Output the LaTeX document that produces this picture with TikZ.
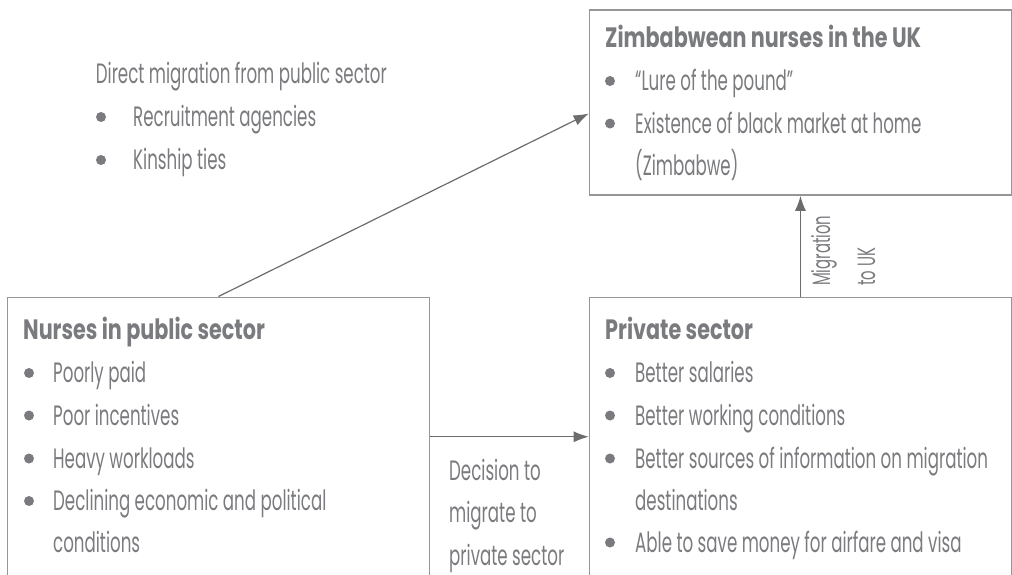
\documentclass[tikz,border=0pt]{standalone}
\usepackage{fontspec}
\setmainfont{Poppins}[UprightFeatures={FakeStretch=0.595},BoldFeatures={FakeStretch=0.74}]
\usetikzlibrary{arrows.meta}
\definecolor{gristexte}{RGB}{122,123,126}
\definecolor{griscadre}{RGB}{150,150,150}
\definecolor{grisfleche}{RGB}{108,108,110}
\newcommand{\puce}[2]{\fill[gristexte] (#1,#2) circle (5pt);}

\begin{document}
\begin{tikzpicture}[x=1pt,y=-1pt,
  txt/.style={anchor=base west,inner sep=0pt,text=gristexte,font=\fontsize{28}{32}\selectfont},
  titre/.style={txt,font=\fontsize{28}{32}\selectfont\bfseries},
  boite/.style={draw=griscadre,line width=1.5pt,minimum width=422pt,anchor=north west,inner sep=0pt},
  fleche/.style={draw=grisfleche,line width=1.2pt,-{Latex[length=15pt,width=11pt]}}]
\useasboundingbox (0,0) rectangle (1012,574);

% les cadres
\node[boite,minimum height=185pt] (uk) at (588.7,9.3) {};
\node[boite,minimum height=300pt] (public) at (6.7,296.5) {};
\node[boite,minimum height=300pt] (prive) at (588.7,296.5) {};

% migration directe
\node[txt] (direct) at (95.7,83) {Direct migration from public sector};
\puce{101}{117}
\node[txt] (agences) at (133,126.5) {Recruitment agencies};
\puce{101}{160}
\node[txt] (parente) at (133,169.5) {Kinship ties};

% infirmieres au Royaume-Uni
\node[titre] (uktitre) at (605,47) {Zimbabwean nurses in the UK};
\puce{610}{81}
\node[txt] (livre) at (635,90) {“Lure of the pound”};
\puce{610}{123.5}
\node[txt] (marche) at (635,133) {Existence of black market at home};
\node[txt] (zim) at (635,175.5) {(Zimbabwe)};

% secteur public
\node[titre] (pubtitre) at (23,339) {Nurses in public sector};
\puce{29}{373}
\node[txt] (pub1) at (53,382.5) {Poorly paid};
\puce{29}{415.5}
\node[txt] (pub2) at (53,425) {Poor incentives};
\puce{29}{458.5}
\node[txt] (pub3) at (53,468) {Heavy workloads};
\puce{29}{501}
\node[txt] (pub4) at (53,510.5) {Declining economic and political};
\node[txt] (pub5) at (53,552) {conditions};

% secteur prive
\node[titre] (privtitre) at (605,339) {Private sector};
\puce{610}{373}
\node[txt] (priv1) at (635,382.5) {Better salaries};
\puce{610}{415.5}
\node[txt] (priv2) at (635,425) {Better working conditions};
\puce{610}{458.5}
\node[txt] (priv3) at (635,468) {Better sources of information on migration};
\node[txt] (priv4) at (635,510.5) {destinations};
\puce{610}{542.5}
\node[txt] (priv5) at (635,552) {Able to save money for airfare and visa};

% fleches
\draw[fleche] (public.north) -- ([yshift=-11pt]uk.west);
\draw[fleche] ([yshift=10.5pt]public.east) -- ([yshift=10.5pt]prive.west);
\draw[fleche] (prive.north) -- (uk.south);

% etiquettes des fleches
\node[txt] (dec1) at (449,480) {Decision to};
\node[txt] (dec2) at (449,522.5) {migrate to};
\node[txt] (dec3) at (449,565) {private sector};
\node[txt,rotate=90,font=\fontsize{25}{29}\selectfont] (mig1) at (830,286) {Migration};
\node[txt,rotate=90,font=\fontsize{25}{29}\selectfont] (mig2) at (875,286) {to UK};
\end{tikzpicture}
\end{document}
